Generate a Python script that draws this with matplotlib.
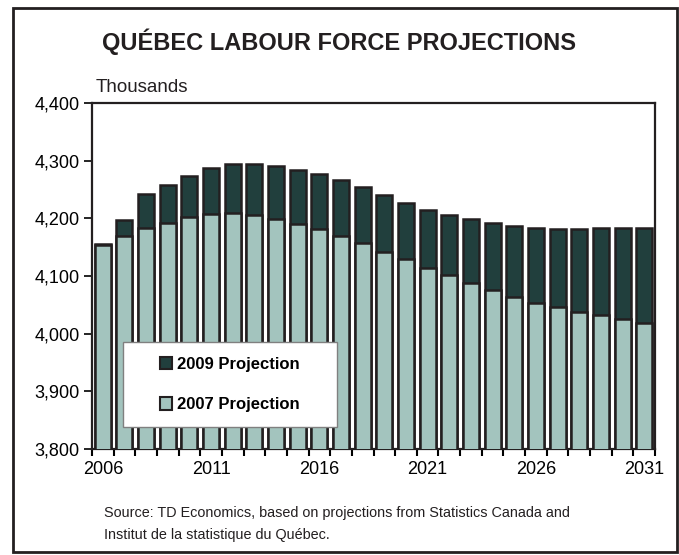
import numpy as np
from matplotlib import pyplot as plt
from matplotlib.patches import Rectangle, Patch

plt.rcParams['font.family'] = ['Liberation Sans', 'DejaVu Sans']

# values (thousands)
years = list(range(2006, 2032))
proj_2009 = [4155, 4197, 4243, 4257, 4274, 4287, 4294, 4295, 4291, 4284,
             4277, 4266, 4254, 4240, 4226, 4214, 4206, 4199, 4192, 4186,
             4183, 4181, 4181, 4183, 4183, 4184]
proj_2007 = [4153, 4170, 4183, 4192, 4202, 4207, 4209, 4205, 4199, 4190,
             4181, 4169, 4157, 4142, 4129, 4114, 4102, 4088, 4076, 4063,
             4054, 4046, 4038, 4032, 4025, 4019]
label_years = [2006, 2011, 2016, 2021, 2026, 2031]
y_ticks = [3800, 3900, 4000, 4100, 4200, 4300, 4400]

dark = "#213f3d"
light = "#a3c4be"
edge = "#231f20"

fig = plt.figure(figsize=(6.79, 5.55), dpi=100)
ax = fig.add_axes([0.1355, 0.191, 0.8292, 0.6234])

# outer frame round the whole chart
fig.patches.append(Rectangle((13/679, 3/555), 664/679, 544/555, transform=fig.transFigure,
                             fill=False, edgecolor=edge, linewidth=2))

ax.bar(years, proj_2009, width=0.74, color=dark, edgecolor=edge, linewidth=1.8, zorder=2)
ax.bar(years, proj_2007, width=0.74, color=light, edgecolor=edge, linewidth=1.8, zorder=3)

ax.set_ylim(3800, 4400)
ax.set_xlim(years[0] - 0.5, years[-1] + 0.5)
ax.set_yticks(y_ticks)
ax.set_yticklabels([f"{v:,}" for v in y_ticks], fontsize=13)
ax.set_xticks(label_years)
ax.set_xticklabels([str(y) for y in label_years], fontsize=13)
ax.set_xticks(np.arange(years[0] - 0.5, years[-1] + 1), minor=True)
ax.tick_params(axis='x', which='major', length=0, pad=9)
ax.tick_params(axis='x', which='minor', length=5, width=1.5, direction='out')
ax.tick_params(axis='y', length=6, width=1.2, direction='out', pad=3)
for s in ax.spines.values():
    s.set_linewidth(1.6)
    s.set_color(edge)

# legend box
ax.add_patch(Rectangle((0.055, 0.064), 0.38, 0.245, transform=ax.transAxes,
                       facecolor='white', edgecolor='#808080', linewidth=1, zorder=5))
handles = [Patch(facecolor=dark, edgecolor=edge, linewidth=1.5, label="2009 Projection"),
           Patch(facecolor=light, edgecolor=edge, linewidth=1.5, label="2007 Projection")]
leg = ax.legend(handles=handles, loc='center', bbox_to_anchor=(0.245, 0.1865),
                frameon=False, prop={'weight': 'bold', 'size': 12},
                handlelength=0.75, handleheight=0.75, handletextpad=0.3, labelspacing=1.55)
leg.set_zorder(6)

fig.text(0.5, 1 - 42/555, "QUÉBEC LABOUR FORCE PROJECTIONS", ha='center', va='center',
         fontsize=17, fontweight='bold', color=edge)
fig.text(96/679, 1 - 88/555, "Thousands", ha='left', va='center', fontsize=13.5, color=edge)
fig.text(104/679, 1 - 513/555, "Source: TD Economics, based on projections from Statistics Canada and",
         ha='left', va='center', fontsize=10.4, color=edge)
fig.text(104/679, 1 - 535/555, "Institut de la statistique du Québec.",
         ha='left', va='center', fontsize=10.4, color=edge)

plt.savefig("out.png", dpi=100)
